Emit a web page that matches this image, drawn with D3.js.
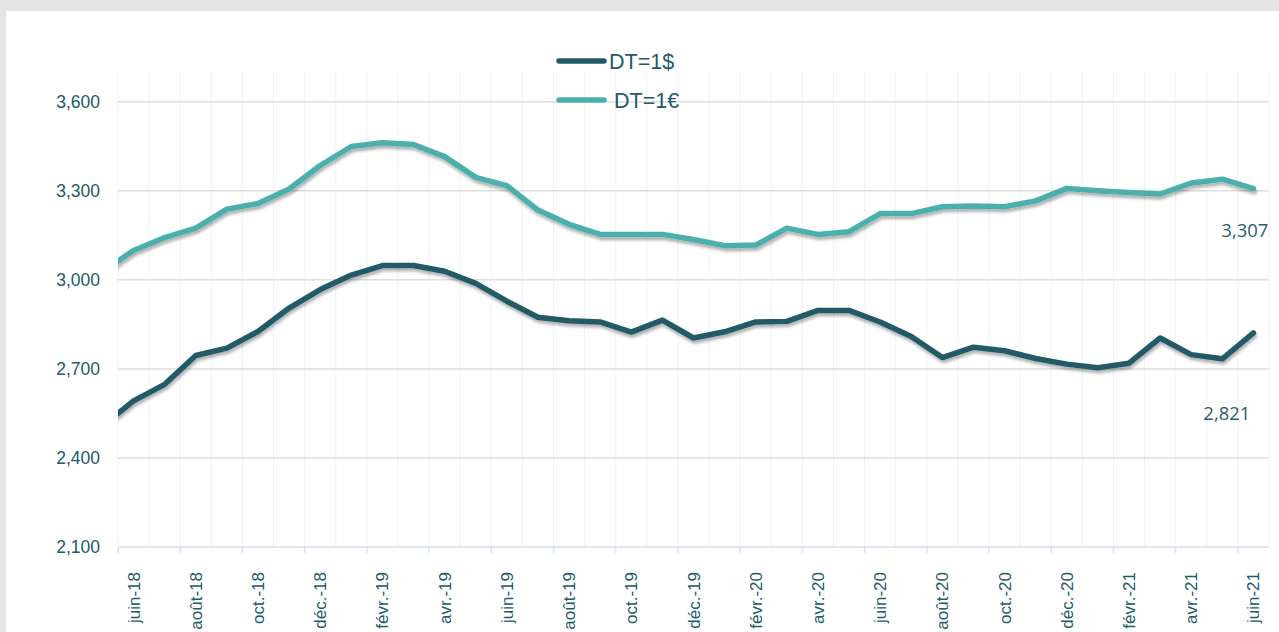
<!DOCTYPE html>
<html>
<head>
<meta charset="utf-8">
<script src="https://cdn.jsdelivr.net/npm/d3@7"></script>
<style>
  html, body { margin: 0; padding: 0; background: #e4e4e4; }
  svg { display: block; }
</style>
</head>
<body>
<svg id="chart" width="1279" height="632"></svg>
<script>
// ---- Data ----
const months = ["mai-18","juin-18","juil.-18","août-18","sept.-18","oct.-18","nov.-18","déc.-18",
  "janv.-19","févr.-19","mars-19","avr.-19","mai-19","juin-19","juil.-19","août-19","sept.-19","oct.-19","nov.-19","déc.-19",
  "janv.-20","févr.-20","mars-20","avr.-20","mai-20","juin-20","juil.-20","août-20","sept.-20","oct.-20","nov.-20","déc.-20",
  "janv.-21","févr.-21","mars-21","avr.-21","mai-21","juin-21"];
const dollar = [2508,2592,2648,2745,2770,2826,2905,2967,3016,3048,3048,3029,2988,2928,2874,2862,2858,2824,2864,2804,
  2825,2858,2860,2897,2897,2858,2809,2738,2773,2761,2735,2716,2704,2719,2804,2748,2734,2821];
const euro = [3027,3099,3142,3174,3238,3257,3306,3385,3449,3462,3456,3415,3345,3317,3235,3187,3153,3153,3153,3136,
  3115,3117,3174,3153,3162,3223,3223,3246,3249,3246,3266,3308,3300,3294,3289,3326,3339,3307];
const yTicks = [2100, 2400, 2700, 3000, 3300, 3600];
const seriesNames = ["DT=1$", "DT=1€"];
const colors = ["#225a67", "#4bb0ad"];

// ---- Layout ----
const svg = d3.select("#chart");
const pLeft = 118, pRight = 1269, pTop = 72, pBottom = 547;
const firstVisible = 1; // "juin-18"
const nMonths = months.length - firstVisible; // 37
const textColor = "#215a69";

const x = d3.scaleLinear().domain([0, nMonths]).range([pLeft, pRight]);
const y = d3.scaleLinear().domain([2100, 3700]).range([pBottom, pTop]);
const xc = i => x(i - firstVisible + 0.5);

// white panel
svg.append("rect").attr("x", 6).attr("y", 11).attr("width", 1279 - 6).attr("height", 632 - 11).attr("fill", "#ffffff");

const defs = svg.append("defs");
defs.append("clipPath").attr("id", "plotclip").append("rect")
  .attr("x", pLeft).attr("y", 0).attr("width", pRight - pLeft + 10).attr("height", pBottom + 10);
const f = defs.append("filter").attr("id", "shadow").attr("x", "-5%").attr("y", "-20%").attr("width", "110%").attr("height", "150%");
f.append("feDropShadow").attr("dx", 1).attr("dy", 3).attr("stdDeviation", 1.8).attr("flood-color", "#000").attr("flood-opacity", 0.3);

// vertical gridlines (month boundaries)
svg.append("g").selectAll("line").data(d3.range(0, nMonths + 1)).join("line")
  .attr("x1", d => x(d)).attr("x2", d => x(d)).attr("y1", pTop).attr("y2", pBottom)
  .attr("stroke", "#edf1f8").attr("stroke-width", 1);

// horizontal gridlines
svg.append("g").selectAll("line").data(yTicks.filter(t => t > 2100)).join("line")
  .attr("x1", pLeft).attr("x2", pRight).attr("y1", d => y(d)).attr("y2", d => y(d))
  .attr("stroke", "#dedede").attr("stroke-width", 1.5);

// y axis labels
const yAxis = d3.axisLeft(y).tickValues(yTicks).tickSize(0).tickPadding(18).tickFormat(d3.format(",d"));
const ya = svg.append("g").attr("transform", `translate(${pLeft},0)`).call(yAxis);
ya.select(".domain").remove();
ya.selectAll("text").attr("font-family", "Liberation Sans, Arial, sans-serif").attr("font-size", 17.5).attr("fill", textColor);

// x axis line + ticks
svg.append("line").attr("x1", pLeft).attr("x2", pRight).attr("y1", pBottom).attr("y2", pBottom)
  .attr("stroke", "#d6e1ee").attr("stroke-width", 1.5);
const tickIdx = d3.range(0, nMonths, 2);
svg.append("g").selectAll("line").data(tickIdx).join("line")
  .attr("x1", d => x(d)).attr("x2", d => x(d)).attr("y1", pBottom).attr("y2", pBottom + 6)
  .attr("stroke", "#d6e1ee").attr("stroke-width", 1.5);
svg.append("g").selectAll("text").data(tickIdx).join("text")
  .attr("transform", d => `translate(${x(d + 0.5) + 6},${pBottom + 25}) rotate(-90)`)
  .attr("text-anchor", "end")
  .attr("font-family", "Liberation Sans, Arial, sans-serif").attr("font-size", 17).attr("fill", textColor)
  .text(d => months[d + firstVisible]);

// lines
const line = d3.line().x((d, i) => xc(i)).y(d => y(d));
const plot = svg.append("g").attr("clip-path", "url(#plotclip)");
[dollar, euro].forEach((s, k) => {
  plot.append("path").datum(s).attr("d", line)
    .attr("fill", "none").attr("stroke", colors[k]).attr("stroke-width", 5.5)
    .attr("stroke-linejoin", "round").attr("stroke-linecap", "round")
    .attr("filter", "url(#shadow)");
});

// end labels
const last = months.length - 1;
const fmt = d3.format(",d");
svg.append("text").attr("x", xc(last) + 15).attr("y", y(euro[last]) + 48)
  .attr("text-anchor", "end").attr("font-family", "Open Sans, sans-serif").attr("font-size", 18.5).attr("fill", "#2d5d6b")
  .text(fmt(euro[last]));
svg.append("text").attr("x", xc(last) - 3).attr("y", y(dollar[last]) + 87)
  .attr("text-anchor", "end").attr("font-family", "Open Sans, sans-serif").attr("font-size", 18.5).attr("fill", "#2d5d6b")
  .text(fmt(dollar[last]));

// legend
const lg = svg.append("g");
seriesNames.forEach((name, k) => {
  const ly = 61 + k * 39;
  lg.append("line").attr("x1", 559).attr("x2", 604).attr("y1", ly).attr("y2", ly)
    .attr("stroke", colors[k]).attr("stroke-width", 5.5).attr("stroke-linecap", "round");
  lg.append("text").attr("x", k === 0 ? 609 : 614).attr("y", ly + 8)
    .attr("font-family", "Liberation Sans, Arial, sans-serif").attr("font-size", 21.5).attr("fill", textColor)
    .text(name);
});
</script>
</body>
</html>
